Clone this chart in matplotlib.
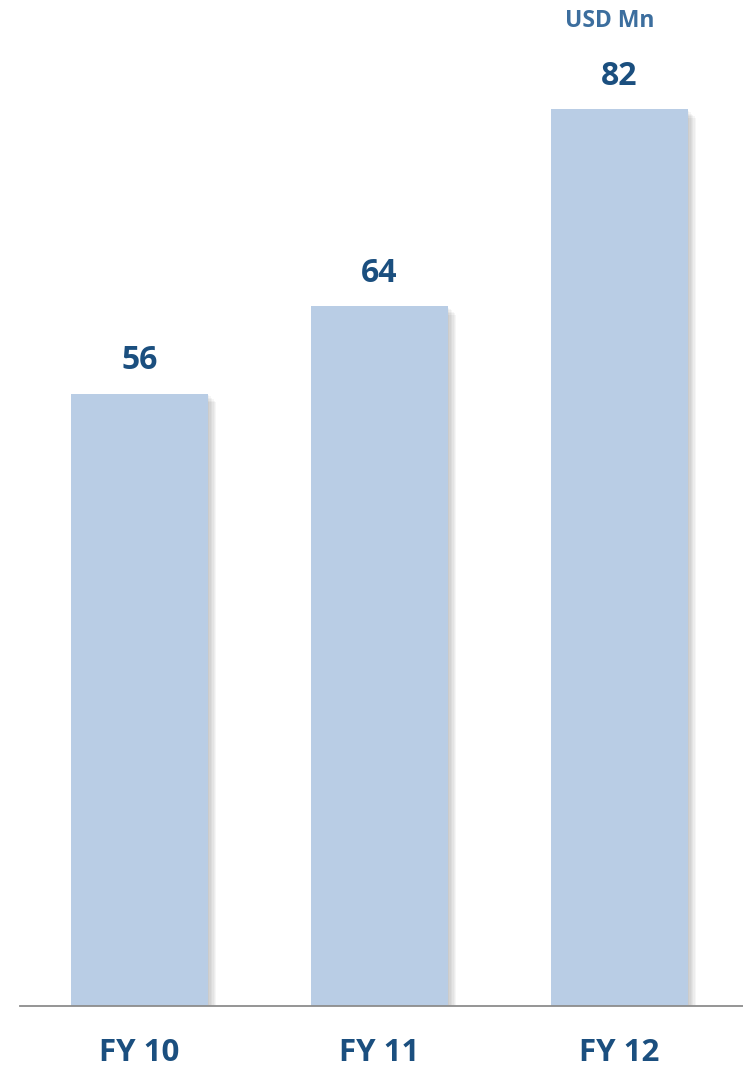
# Revenue bar chart, FY10-FY12

import matplotlib.pyplot as plt
import matplotlib.patheffects as pe

years = ['FY 10', 'FY 11', 'FY 12']
revenue = [56, 64, 82]
unit = 'USD Mn'

bar_color = '#B9CDE5'
text_color = '#1B4F7F'

plt.rcParams['font.family'] = ['Open Sans', 'DejaVu Sans']

fig = plt.figure(figsize=(7.43, 10.68), dpi=100)
ax = fig.add_axes([20 / 743, 1 - 1006 / 1068, 723 / 743, 1006 / 1068])

x = list(range(len(years)))
bars = ax.bar(x, revenue, width=0.571, color=bar_color, zorder=2)

# soft drop shadow: several faint offset copies stacked up
shadow = [pe.SimplePatchShadow(offset=(k, -k), shadow_rgbFace='#000000', alpha=0.035)
          for k in range(6, 0, -1)]
for b in bars:
    b.set_path_effects(shadow + [pe.Normal()])

for xi, v in zip(x, revenue):
    ax.text(xi, v + 3.0, str(v), ha='center', va='center',
            fontsize=23, fontweight='bold', color=text_color)

ax.set_xlim(-0.498, 2.515)
ax.set_ylim(0, 92.0)

for s in ['top', 'right', 'left']:
    ax.spines[s].set_visible(False)
ax.spines['bottom'].set_color('#8C8C8C')
ax.spines['bottom'].set_linewidth(1.3)
ax.spines['bottom'].set_zorder(3)

ax.set_yticks([])
ax.set_xticks(x)
ax.set_xticklabels(years, fontsize=22.5, fontweight='bold', color=text_color)
ax.tick_params(axis='x', length=0, pad=23)

fig.text(610 / 743, 1 - 21 / 1068, unit, ha='center', va='center',
         fontsize=16.5, fontweight='bold', color='#3C6E9E')

fig.savefig('out.png', dpi=100)
